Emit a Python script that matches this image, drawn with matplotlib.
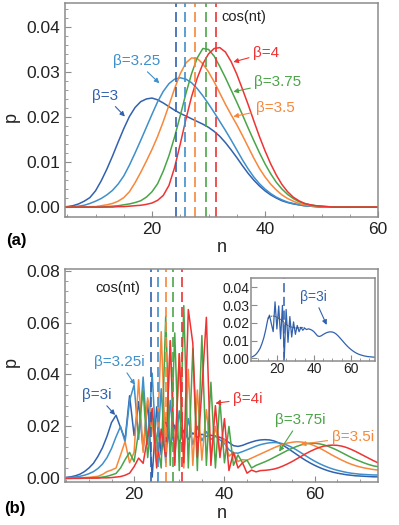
import numpy as np
import matplotlib
matplotlib.use("Agg")
import matplotlib.pyplot as plt
from matplotlib.ticker import MultipleLocator

plt.rcParams['font.family'] = ['Liberation Sans', 'DejaVu Sans']

# colours for the five beta values
c3, c325, c35, c375, c4 = '#3262ae', '#3f8fca', '#f7873a', '#4ba548', '#ee3334'

# ---- panel (a): real beta, n = 4..60
n_a = list(range(4, 61))
p_b3 = [0, 0.0001, 0.0003, 0.0007, 0.0013, 0.0021, 0.0036, 0.0058, 0.0084, 0.0113,
        0.0144, 0.0174, 0.0201, 0.0221, 0.0234, 0.0240, 0.0242, 0.0238, 0.0231, 0.0223,
        0.0215, 0.0208, 0.0202, 0.0196, 0.0190, 0.0184, 0.0177, 0.0168, 0.0157, 0.0143,
        0.0127, 0.0110, 0.0092, 0.0075, 0.0060, 0.0047, 0.0036, 0.0027, 0.0020, 0.0014,
        0.0010, 0.0007, 0.0005, 0.0003, 0.0002, 0.0001, 0, 0, 0, 0, 0, 0, 0, 0, 0, 0, 0]
p_b325 = [0, 0, 0.0001, 0.0002, 0.0004, 0.0008, 0.0013, 0.0019, 0.0027, 0.0037,
          0.0051, 0.0069, 0.0093, 0.0120, 0.0148, 0.0177, 0.0206, 0.0234, 0.0257, 0.0274,
          0.0284, 0.0287, 0.0284, 0.0276, 0.0263, 0.0247, 0.0229, 0.0210, 0.0190, 0.0170,
          0.0149, 0.0127, 0.0105, 0.0085, 0.0067, 0.0052, 0.0040, 0.0030, 0.0022, 0.0016,
          0.0011, 0.0008, 0.0005, 0.0003, 0.0002, 0.0001, 0, 0, 0, 0, 0, 0, 0, 0, 0, 0, 0]
p_b35 = [0, 0, 0, 0, 0, 0.0001, 0.0001, 0.0003, 0.0005, 0.0008,
         0.0013, 0.0021, 0.0034, 0.0054, 0.0077, 0.0102, 0.0128, 0.0157, 0.0190, 0.0226,
         0.0263, 0.0296, 0.0320, 0.0331, 0.0330, 0.0318, 0.0300, 0.0278, 0.0253, 0.0228,
         0.0205, 0.0183, 0.0159, 0.0134, 0.0109, 0.0086, 0.0067, 0.0051, 0.0038, 0.0027,
         0.0019, 0.0013, 0.0008, 0.0005, 0.0003, 0.0002, 0.0001, 0, 0, 0, 0, 0, 0, 0, 0, 0, 0]
p_b375 = [0, 0, 0, 0, 0, 0, 0, 0, 0.0001, 0.0002,
          0.0003, 0.0005, 0.0007, 0.0010, 0.0014, 0.0022, 0.0034, 0.0052, 0.0080, 0.0114,
          0.0156, 0.0203, 0.0252, 0.0296, 0.0331, 0.0352, 0.0350, 0.0335, 0.0312, 0.0287,
          0.0260, 0.0233, 0.0205, 0.0176, 0.0148, 0.0121, 0.0096, 0.0074, 0.0055, 0.0040,
          0.0028, 0.0019, 0.0012, 0.0008, 0.0005, 0.0003, 0.0002, 0.0001, 0, 0, 0, 0, 0, 0, 0, 0, 0]
p_b4 = [0, 0, 0, 0, 0, 0, 0, 0, 0, 0,
        0.0001, 0.0001, 0.0002, 0.0003, 0.0004, 0.0006, 0.0009, 0.0015, 0.0026, 0.0048,
        0.0088, 0.0140, 0.0195, 0.0245, 0.0286, 0.0318, 0.0340, 0.0352, 0.0354, 0.0344,
        0.0323, 0.0295, 0.0262, 0.0228, 0.0192, 0.0157, 0.0125, 0.0096, 0.0071, 0.0050,
        0.0034, 0.0022, 0.0014, 0.0008, 0.0005, 0.0003, 0.0002, 0.0001, 0, 0, 0, 0, 0, 0, 0, 0, 0]
mean_a = [24.3, 25.8, 27.6, 29.5, 31.4]

# ---- panel (b): imaginary beta, n = 5..74
n_b = list(range(5, 75))
p_bi3 = [0.0004, 0.0006, 0.0010, 0.0016, 0.0026, 0.0040, 0.0058, 0.0085, 0.0118, 0.0162,
         0.0215, 0.0243, 0.0195, 0.0150, 0.0318, 0.0165, 0.0295, 0.0110, 0.0298, 0.0005,
         0.0275, 0.0090, 0.0235, 0.0120, 0.0205, 0.0135, 0.0185, 0.0150, 0.0175, 0.0158,
         0.0170, 0.0162, 0.0166, 0.0163, 0.0158, 0.0150, 0.0138, 0.0126, 0.0123, 0.0127,
         0.0134, 0.0140, 0.0145, 0.0148, 0.0149, 0.0148, 0.0144, 0.0137, 0.0127, 0.0116,
         0.0104, 0.0092, 0.0080, 0.0069, 0.0059, 0.0050, 0.0042, 0.0035, 0.0029, 0.0024,
         0.0020, 0.0017, 0.0014, 0.0012, 0.0010, 0.0009, 0.0008, 0.0007, 0.0006, 0.0006]
p_bi325 = [0.0002, 0.0003, 0.0005, 0.0008, 0.0012, 0.0018, 0.0026, 0.0038, 0.0055, 0.0080,
           0.0115, 0.0160, 0.0200, 0.0140, 0.0300, 0.0360, 0.0150, 0.0390, 0.0130, 0.0405,
           0.0070, 0.0345, 0.0060, 0.0300, 0.0090, 0.0260, 0.0110, 0.0230, 0.0130, 0.0200,
           0.0145, 0.0180, 0.0150, 0.0162, 0.0148, 0.0135, 0.0110, 0.0098, 0.0097, 0.0103,
           0.0110, 0.0117, 0.0124, 0.0130, 0.0134, 0.0137, 0.0138, 0.0137, 0.0133, 0.0127,
           0.0119, 0.0109, 0.0098, 0.0087, 0.0076, 0.0066, 0.0057, 0.0049, 0.0042, 0.0036,
           0.0031, 0.0027, 0.0023, 0.0020, 0.0018, 0.0016, 0.0015, 0.0014, 0.0013, 0.0013]
p_bi35 = [0.0001, 0.0001, 0.0002, 0.0002, 0.0003, 0.0004, 0.0006, 0.0008, 0.0015, 0.0026,
          0.0032, 0.0040, 0.0090, 0.0142, 0.0060, 0.0100, 0.0380, 0.0100, 0.0310, 0.0210,
          0.0060, 0.0565, 0.0090, 0.0530, 0.0060, 0.0480, 0.0040, 0.0420, 0.0050, 0.0340,
          0.0070, 0.0265, 0.0090, 0.0200, 0.0100, 0.0150, 0.0085, 0.0100, 0.0065, 0.0072,
          0.0070, 0.0078, 0.0086, 0.0094, 0.0102, 0.0110, 0.0118, 0.0125, 0.0131, 0.0136,
          0.0139, 0.0141, 0.0140, 0.0137, 0.0132, 0.0125, 0.0117, 0.0108, 0.0098, 0.0088,
          0.0079, 0.0070, 0.0062, 0.0055, 0.0049, 0.0044, 0.0040, 0.0037, 0.0034, 0.0032]
p_bi375 = [0, 0, 0.0001, 0.0001, 0.0001, 0.0002, 0.0002, 0.0003, 0.0005, 0.0008,
           0.0013, 0.0019, 0.0040, 0.0072, 0.0100, 0.0064, 0.0180, 0.0340, 0.0080, 0.0250,
           0.0150, 0.0040, 0.0625, 0.0050, 0.0560, 0.0030, 0.0665, 0.0040, 0.0500, 0.0030,
           0.0550, 0.0050, 0.0370, 0.0040, 0.0300, 0.0060, 0.0200, 0.0050, 0.0090, 0.0060,
           0.0070, 0.0040, 0.0050, 0.0057, 0.0064, 0.0072, 0.0081, 0.0090, 0.0099, 0.0108,
           0.0116, 0.0123, 0.0129, 0.0133, 0.0135, 0.0135, 0.0133, 0.0129, 0.0123, 0.0116,
           0.0108, 0.0099, 0.0090, 0.0081, 0.0073, 0.0066, 0.0059, 0.0053, 0.0048, 0.0045]
p_bi4 = [0, 0, 0, 0, 0.0001, 0.0001, 0.0001, 0.0001, 0.0002, 0.0002,
         0.0003, 0.0005, 0.0007, 0.0012, 0.0020, 0.0045, 0.0078, 0.0058, 0.0160, 0.0270,
         0.0040, 0.0190, 0.0080, 0.0530, 0.0050, 0.0480, 0.0060, 0.0650, 0.0520, 0.0080,
         0.0340, 0.0620, 0.0050, 0.0280, 0.0080, 0.0230, 0.0030, 0.0100, 0.0040, 0.0060,
         0.0020, 0.0032, 0.0025, 0.0030, 0.0031, 0.0033, 0.0036, 0.0041, 0.0048, 0.0056,
         0.0065, 0.0075, 0.0085, 0.0095, 0.0104, 0.0112, 0.0119, 0.0124, 0.0127, 0.0128,
         0.0127, 0.0124, 0.0119, 0.0112, 0.0104, 0.0095, 0.0086, 0.0077, 0.0068, 0.0060]
mean_b = [23.8, 25.2, 27.1, 28.7, 30.5]

# smooth guide in the inset
n_dot = list(range(15, 36))
p_dot = [0.0225, 0.0234, 0.0237, 0.0238, 0.0236, 0.0232, 0.0226, 0.0218, 0.0209, 0.0200,
         0.0192, 0.0185, 0.0179, 0.0175, 0.0172, 0.0171, 0.0171, 0.0172, 0.0173, 0.0174, 0.0173]

cols = [c3, c325, c35, c375, c4]
spine_c = '#8c8c8c'


def style(ax, fs=12.5):
    for s in ax.spines.values():
        s.set_color(spine_c)
        s.set_linewidth(1.1)
    ax.tick_params(which='both', direction='in', colors=spine_c, labelcolor='#222222',
                   labelsize=fs, top=False, right=False)
    ax.tick_params(which='major', length=4)
    ax.tick_params(which='minor', length=2)


def arrow(ax, txt, xy, xyt, c, fs=11):
    ax.annotate(txt, xy=xy, xytext=xyt, color=c, fontsize=fs, ha='center', va='center',
                arrowprops=dict(arrowstyle='-|>', color=c, lw=0.8, mutation_scale=7,
                                shrinkA=1, shrinkB=0))


fig = plt.figure(figsize=(3.99, 5.25), dpi=100)

# ---------- (a)
ax1 = fig.add_axes([0.1629, 0.5867, 0.7845, 0.4076])
for p, c in zip([p_b3, p_b325, p_b35, p_b375, p_b4], cols):
    ax1.plot(n_a, p, color=c, lw=1.1)
for m, c in zip(mean_a, cols):
    ax1.axvline(m, color=c, lw=1.2, dashes=(6, 3))
ax1.set_xlim(4.6, 60)
ax1.set_ylim(-0.0022, 0.0453)
ax1.xaxis.set_major_locator(MultipleLocator(20))
ax1.xaxis.set_minor_locator(MultipleLocator(5))
ax1.yaxis.set_major_locator(MultipleLocator(0.01))
ax1.yaxis.set_minor_locator(MultipleLocator(0.002))
ax1.yaxis.set_major_formatter(matplotlib.ticker.FormatStrFormatter('%.2f'))
style(ax1)
ax1.text(36.3, 0.0422, 'cos(nt)', fontsize=10.5, color='#222222', ha='center', va='center')
arrow(ax1, 'β=3', (15.2, 0.0201), (11.7, 0.0247), c3)
arrow(ax1, 'β=3.25', (21.3, 0.0275), (17.2, 0.0324), c325)
arrow(ax1, 'β=4', (34.4, 0.0322), (40.2, 0.0342), c4)
arrow(ax1, 'β=3.75', (34.4, 0.0256), (42.3, 0.0277), c375)
arrow(ax1, 'β=3.5', (34.4, 0.0201), (41.8, 0.0220), c35)

# ---------- (b)
ax2 = fig.add_axes([0.1629, 0.0819, 0.7845, 0.4057])
for p, c in zip([p_bi3, p_bi325, p_bi35, p_bi375, p_bi4], cols):
    ax2.plot(n_b, p, color=c, lw=1.1)
for m, c in zip(mean_b, cols):
    ax2.axvline(m, color=c, lw=1.2, dashes=(6, 3))
ax2.set_xlim(4.7, 74)
ax2.set_ylim(-0.0014, 0.0806)
ax2.xaxis.set_major_locator(MultipleLocator(20))
ax2.xaxis.set_minor_locator(MultipleLocator(5))
ax2.yaxis.set_major_locator(MultipleLocator(0.02))
ax2.yaxis.set_minor_locator(MultipleLocator(0.004))
ax2.yaxis.set_major_formatter(matplotlib.ticker.FormatStrFormatter('%.2f'))
style(ax2)
ax2.text(16.4, 0.0733, 'cos(nt)', fontsize=10.5, color='#222222', ha='center', va='center')
arrow(ax2, 'β=3i', (15.8, 0.0244), (11.8, 0.0321), c3)
arrow(ax2, 'β=3.25i', (20.2, 0.0360), (16.8, 0.0448), c325)
arrow(ax2, 'β=4i', (38.0, 0.0289), (45.2, 0.0306), c4)
arrow(ax2, 'β=3.75i', (52.1, 0.0103), (56.7, 0.0225), c375)
arrow(ax2, 'β=3.5i', (56.9, 0.0131), (68.4, 0.0159), c35)

# ---------- inset
ax3 = fig.add_axes([0.629, 0.3124, 0.3108, 0.1587])
ax3.plot(n_b, p_bi3, color=c3, lw=0.9)
ax3.plot(n_dot, p_dot, color='#333333', lw=0.7, ls=(0, (1, 1)))
ax3.axvline(mean_b[0], color=c3, lw=1.1, dashes=(6, 3))
ax3.set_xlim(6, 73)
ax3.set_ylim(-0.0015, 0.0454)
ax3.xaxis.set_major_locator(MultipleLocator(20))
ax3.xaxis.set_minor_locator(MultipleLocator(5))
ax3.yaxis.set_major_locator(MultipleLocator(0.01))
ax3.yaxis.set_major_formatter(matplotlib.ticker.FormatStrFormatter('%.2f'))
style(ax3, fs=10)
ax3.tick_params(axis='x', pad=1)
ax3.tick_params(axis='y', pad=1)
arrow(ax3, 'β=3i', (46.9, 0.0188), (40.0, 0.0347), c3, fs=10)

# axis labels and panel tags
fig.text(0.029, 1 - 117 / 525, 'p', fontsize=13, rotation=90, ha='center', va='center', color='#222222')
fig.text(0.029, 1 - 362 / 525, 'p', fontsize=13, rotation=90, ha='center', va='center', color='#222222')
fig.text(0.555, 1 - 247 / 525, 'n', fontsize=13, ha='center', va='center', color='#222222')
fig.text(0.555, 1 - 513 / 525, 'n', fontsize=13, ha='center', va='center', color='#222222')
fig.text(0.04, 1 - 241 / 525, '(a)', fontsize=12, fontweight='bold', ha='center', va='center')
fig.text(0.037, 1 - 508 / 525, '(b)', fontsize=12, fontweight='bold', ha='center', va='center')

fig.savefig('out.png', dpi=100)
